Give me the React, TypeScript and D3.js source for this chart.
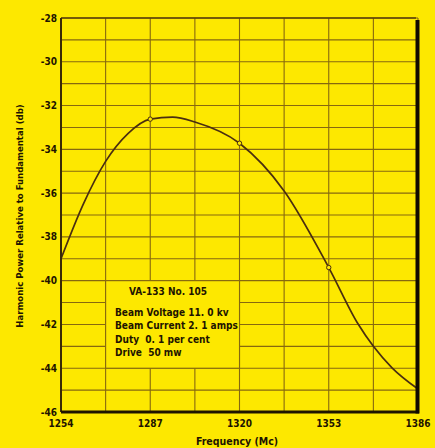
import React from "react";
import * as d3 from "d3";

const freqs = [1254, 1262.25, 1270.5, 1278.75, 1287, 1295.25, 1303.5, 1320, 1336.5, 1353, 1363.8, 1369.5, 1376.4, 1386];
const powerDb = [-39.0, -36.5, -34.55, -33.28, -32.62, -32.53, -32.75, -33.72, -35.9, -39.4, -41.97, -43.0, -43.98, -44.95];
const markedFreqs = [1287, 1320, 1353];
const xTicks = [1254, 1287, 1320, 1353, 1386];
const yTicks = [-28, -30, -32, -34, -36, -38, -40, -42, -44, -46];
const noteTitle = "VA-133 No. 105";
const noteLines = ["Beam Voltage 11. 0 kv", "Beam Current 2. 1 amps", "Duty  0. 1 per cent", "Drive  50 mw"];

const W = 435, H = 448;
const L = 61, R = 418, T = 18, B = 412;
const BG = "#FDE800";
const GRID = "#86680F";
const INK = "#1E1400";
const FONT = "'DejaVu Sans Condensed', 'DejaVu Sans', sans-serif";

export default function App() {
  const x = d3.scaleLinear().domain([1254, 1386]).range([L, R]);
  const y = d3.scaleLinear().domain([-46, -28]).range([B, T]);
  const vGrid = d3.range(0, 9).map((i) => 1254 + i * 16.5);
  const hGrid = d3.range(-46, -27, 1);
  const pts: [number, number][] = freqs.map((f, i) => [f, powerDb[i]]);
  const line = d3
    .line<[number, number]>()
    .x((d) => x(d[0]))
    .y((d) => y(d[1]))
    .curve(d3.curveMonotoneX);
  const interp = (f: number) => powerDb[freqs.indexOf(f)];
  const boxX0 = x(1254 + 16.5), boxX1 = x(1254 + 4 * 16.5);
  const boxY0 = y(-40), boxY1 = y(-44);
  return (
    <svg width={W} height={H} style={{ position: "absolute", left: 0, top: 0 }} fontFamily={FONT}>
      <rect x={0} y={0} width={W} height={H} fill={BG} />
      {vGrid.map((f) => (
        <line key={"v" + f} x1={x(f)} x2={x(f)} y1={T} y2={B} stroke={GRID} strokeWidth={1.1} />
      ))}
      {hGrid.map((v) => (
        <line key={"h" + v} x1={L} x2={R} y1={y(v)} y2={y(v)} stroke={GRID} strokeWidth={1.1} />
      ))}
      <rect x={boxX0} y={boxY0} width={boxX1 - boxX0} height={boxY1 - boxY0} fill={BG} stroke={GRID} strokeWidth={1.1} />
      <path d={line(pts) || ""} fill="none" stroke="#4A2E10" strokeWidth={1.7} />
      {markedFreqs.map((f) => (
        <circle key={"c" + f} cx={x(f)} cy={y(interp(f))} r={2.2} fill={BG} stroke="#4A2E10" strokeWidth={1} />
      ))}
      <line x1={L} x2={R - 2} y1={T} y2={T} stroke="#5a4208" strokeWidth={1.6} />
      <line x1={L} x2={L} y1={T} y2={B} stroke="#3a2a06" strokeWidth={2} />
      <line x1={L} x2={R + 1} y1={B} y2={B} stroke={INK} strokeWidth={3.2} />
      <line x1={R - 0.5} x2={R - 0.5} y1={T + 2} y2={B + 1.5} stroke="#100a00" strokeWidth={4} />
      {xTicks.map((f) => (
        <text key={"xt" + f} x={x(f)} y={B + 15} textAnchor="middle" fontSize={10} fontWeight="bold" fill={INK}>
          {f}
        </text>
      ))}
      {yTicks.map((v) => (
        <text key={"yt" + v} x={L - 4} y={y(v) + 3.5} textAnchor="end" fontSize={10} fontWeight="bold" fill={INK}>
          {v}
        </text>
      ))}
      <text x={237} y={445} textAnchor="middle" fontSize={10.5} fontWeight="bold" fill={INK}>
        Frequency (Mc)
      </text>
      <text
        transform={`translate(23, 216) rotate(-90)`}
        textAnchor="middle"
        fontSize={9.5}
        fontWeight="bold"
        fill={INK}
      >
        Harmonic Power Relative to Fundamental (db)
      </text>
      <text x={168} y={295} textAnchor="middle" fontSize={10} fontWeight="bold" fill={INK}>
        {noteTitle}
      </text>
      {noteLines.map((t, i) => (
        <text key={"n" + i} x={115} y={316 + i * 13.3} fontSize={10} fontWeight="bold" fill={INK} xmlSpace="preserve">
          {t}
        </text>
      ))}
    </svg>
  );
}
